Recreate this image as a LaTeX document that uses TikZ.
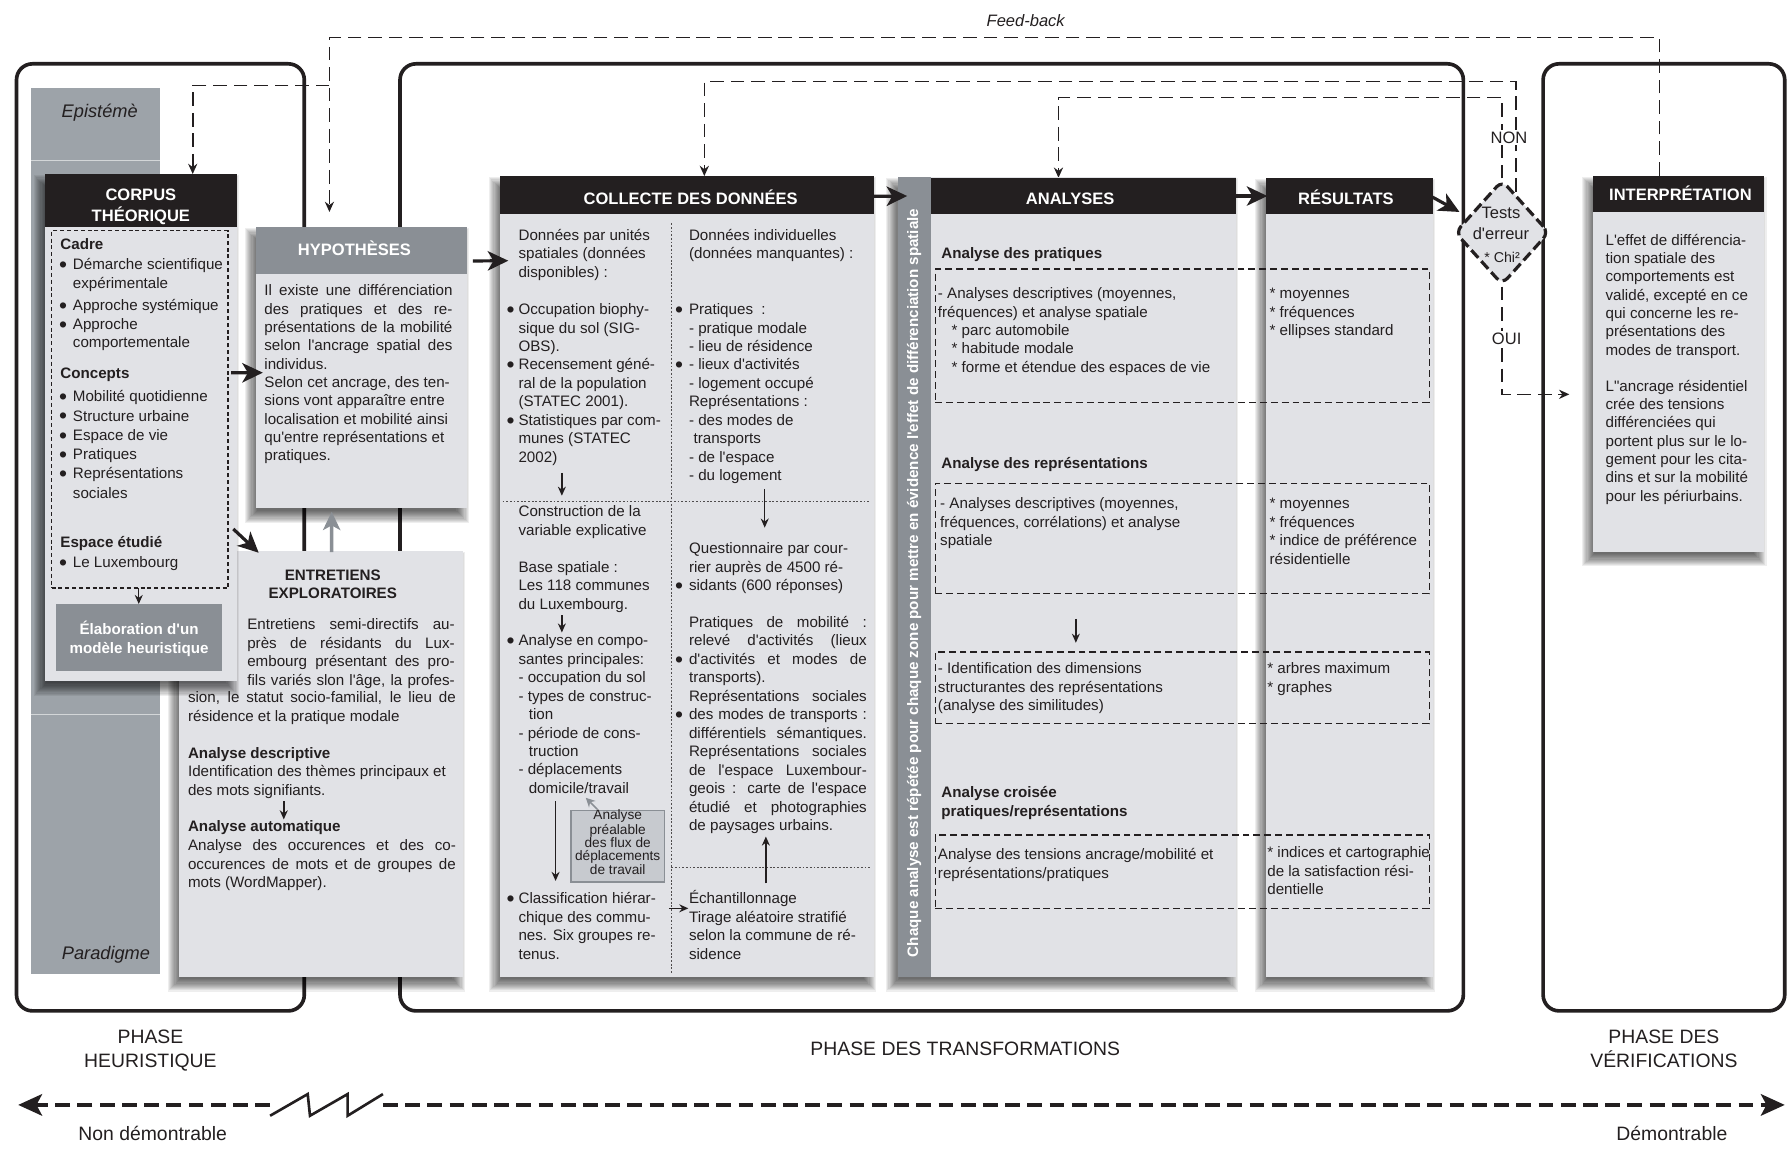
\documentclass[tikz,border=0pt]{standalone}
\usepackage{fontspec}
\setmainfont{Liberation Sans}
\newfontfamily\lib{Liberation Sans}
\usetikzlibrary{arrows.meta,shapes.geometric}
\pgfdeclarelayer{bg}
\pgfsetlayers{bg,main}
\definecolor{ink}{HTML}{231F20}
\definecolor{pale}{HTML}{E1E2E6}
\definecolor{midg}{HTML}{8A8F95}
\definecolor{colg}{HTML}{9DA3A9}
\definecolor{boxg}{HTML}{C7CACF}
\newcommand\fb{\lib\fontsize{13.3}{16.2}\selectfont}
\newcommand\fbb{\lib\fontsize{13.3}{16.2}\selectfont\bfseries}
\newcommand\fh{\lib\fontsize{14.5}{17.8}\selectfont\bfseries}
\newcommand\fl{\lib\fontsize{17}{21}\selectfont}
\newcommand\fm{\lib\fontsize{14.5}{17}\selectfont}
\newcommand\bb[1][5.2]{\llap{\raisebox{-2.5pt}{\fontsize{20}{20}\selectfont\textbullet}\hspace{#1pt}}}
\newcommand\jl[2]{\makebox[#1pt][s]{#2}}
% soft drop shadow: x, y (top left), w, h
\newcommand\shd[4]{\foreach \k in {0,...,11}{\fill[black,opacity=0.065] ({#1+1-\k},{#2+12-\k}) rectangle ({#1+#3-9+\k},{#2+#4+2+\k});}}
\begin{document}
\begin{tikzpicture}[x=1pt,y=-1pt,
  phaseframe/.style={draw=ink,line width=3.2pt,rounded corners=14pt,inner sep=0pt,outer sep=0pt,anchor=north west},
  panel/.style={fill=pale,inner sep=0pt,outer sep=0pt,anchor=north west},
  plain/.style={inner sep=0pt,outer sep=0pt,anchor=north west},
  txt/.style={inner sep=0pt,outer sep=0pt,anchor=base west,align=left,text=ink,font=\fb},
  btxt/.style={txt,font=\fbb},
  htxt/.style={inner sep=0pt,anchor=base,text=white,font=\fh},
  lbl/.style={inner sep=0pt,anchor=base,align=center,text=ink,font=\fl},
  bigarr/.style={draw=ink,line width=2.8pt,-{Stealth[length=18pt,width=17pt,inset=5pt]}},
  grayarr/.style={draw=midg,line width=3pt,-{Stealth[length=16pt,width=15pt,inset=4pt]}},
  smallarr/.style={draw=ink,line width=1.3pt,-{Stealth[length=8pt,width=7pt]}},
  fbl/.style={draw=ink,line width=1.4pt,dash pattern=on 12pt off 6pt},
  fba/.style={fbl,-{Stealth[length=9pt,width=8pt]}},
  dbox/.style={draw=ink,line width=1.1pt,dash pattern=on 6pt off 3.5pt,inner sep=0pt,outer sep=0pt,anchor=north west},
  dotl/.style={draw=ink!80,line width=0.8pt,dash pattern=on 1.6pt off 1.6pt},
  axisl/.style={draw=ink,line width=2.8pt,dash pattern=on 13pt off 6.5pt,-{Stealth[length=21pt,width=19pt,inset=5pt]}},
]
\useasboundingbox (0,0) rectangle (1568,1011);
\begin{pgfonlayer}{bg}
\fill[white] (0,0) rectangle (1568,1011);
\node[phaseframe,minimum width=252.5pt,minimum height=831pt] (ph1) at (14.5,56) {};
\node[phaseframe,minimum width=933pt,minimum height=831pt] (ph2) at (351,56) {};
\node[phaseframe,minimum width=212pt,minimum height=831pt] (ph3) at (1354,56) {};
\end{pgfonlayer}

% epistemological column
\node[plain,fill=colg,minimum width=113.5pt,minimum height=778pt] (colm) at (27,77) {};
\draw[colg!45!white,line width=0.7pt] ([yshift=-64pt]colm.north west) -- ([yshift=-64pt]colm.north east);
\draw[colg!45!white,line width=0.7pt] ([yshift=228pt]colm.south west) -- ([yshift=228pt]colm.south east);
\node[inner sep=0pt,anchor=base,text=ink,font=\lib\fontsize{16}{19}\selectfont\itshape] (epi) at (87.5,103.5) {Epistémè};
\node[inner sep=0pt,anchor=base,text=ink,font=\lib\fontsize{16}{19}\selectfont\itshape] (para) at (93,841.5) {Paradigme};

% entretiens
\shd{157}{483.5}{249}{373.5}
\node[panel,minimum width=249pt,minimum height=373.5pt] (entre) at (157,483.5) {};
\node[btxt,anchor=base,align=center] (entt) at (292,525.2) {ENTRETIENS\\EXPLORATOIRES};
\node[txt] (e1) at (217,601.2) {\jl{182}{Entretiens semi-directifs au-}\\\jl{182}{près de résidants du Lux-}\\\jl{182}{embourg présentant des pro-}\\\jl{182}{fils variés slon l'âge, la profes-}};
\node[txt] (e2) at (165,632.7) {\jl{235}{sion, le statut socio-familial, le lieu de}\\résidence et la pratique modale};
\node[btxt] (e3) at (165,665.5) {Analyse descriptive};
\node[txt] (e4) at (165,697.8) {Identification des thèmes principaux et\\des mots signifiants.};
\node[btxt] (e5) at (165,730) {Analyse automatique};
\node[txt] (e6) at (165,778.9) {\jl{235}{Analyse des occurences et des co-}\\\jl{235}{occurences de mots et de groupes de}\\mots (WordMapper).};

% corpus
\shd{39.5}{152.7}{168.2}{444.9}
\node[panel,minimum width=168.2pt,minimum height=444.9pt] (corpus) at (39.5,152.7) {};
\node[plain,fill=ink,minimum width=168.2pt,minimum height=46.3pt] (corpush) at (39.5,152.7) {};
\node[htxt,align=center] (corpust) at (123.6,194) {CORPUS\\THÉORIQUE};
\node[dbox,dash pattern=on 3.5pt off 2.5pt,line width=1.2pt,minimum width=154.7pt,minimum height=313.6pt] (cdash) at (45.3,202.4) {};
\node[btxt] (cadre) at (53,219) {Cadre};
\node[txt] (c1) at (64,252.8) {\bb Démarche scientifique\\expérimentale};
\node[txt] (c2) at (64,272.6) {\bb Approche systémique};
\node[txt] (c3) at (64,305.2) {\bb Approche\\comportementale};
\node[btxt] (concepts) at (53,332) {Concepts};
\node[txt,font=\lib\fontsize{13.3}{16.9}\selectfont] (c4) at (64,437.1) {\bb Mobilité quotidienne\\\bb Structure urbaine\\\bb Espace de vie\\\bb Pratiques\\\bb Représentations\\sociales};
\node[btxt] (espace) at (53,480) {Espace étudié};
\node[txt] (c5) at (64,498) {\bb Le Luxembourg};
\node[plain,fill=midg,minimum width=145.5pt,minimum height=59pt] (elab) at (49,530) {};
\node[htxt,font=\fbb,align=center] (elabt) at (122,573) {Élaboration d'un\\modèle heuristique};

% hypotheses
\shd{224.6}{199}{184.9}{247}
\node[panel,minimum width=184.9pt,minimum height=247pt] (hyp) at (224.6,199) {};
\node[plain,fill=midg,minimum width=184.9pt,minimum height=41pt] (hyph) at (224.6,199) {};
\node[htxt] (hypt) at (311,224) {HYPOTHÈSES};
\node[txt,font=\lib\fontsize{13.3}{16.1}\selectfont] (hyptx) at (232,404.4) {\jl{165}{Il existe une différenciation}\\\jl{165}{des pratiques et des re-}\\\jl{165}{présentations de la mobilité}\\\jl{165}{selon l'ancrage spatial des}\\individus.\\Selon cet ancrage, des ten-\\sions vont apparaître entre\\localisation et mobilité ainsi\\qu'entre représentations et\\pratiques.};

% collecte
\shd{439}{154.5}{328}{702.5}
\node[panel,minimum width=328pt,minimum height=702.5pt] (coll) at (439,154.5) {};
\node[plain,fill=ink,minimum width=328pt,minimum height=33.5pt] (collh) at (439,154.5) {};
\node[htxt] (collt) at (606,179) {COLLECTE DES DONNÉES};
\draw[dotl] (589,196) -- (589,855);
\draw[dotl] (441,440) -- (764,440);
\draw[dotl] (589,761) -- (764,761);
\node[txt] (l1) at (455,243.4) {Données par unités\\spatiales (données\\disponibles) :};
\node[txt] (l2) at (455,405.6) {\bb[3.4]Occupation biophy-\\sique du sol (SIG-\\OBS).\\\bb[3.4]Recensement géné-\\ral de la population\\(STATEC 2001).\\\bb[3.4]Statistiques par com-\\munes (STATEC\\2002)};
\node[txt] (l3) at (455,469.7) {Construction de la\\variable explicative};
\node[txt] (l4) at (455,534.7) {Base spatiale :\\Les 118 communes\\du Luxembourg.};
\node[txt] (l5) at (455,696.2) {\bb[3.4]Analyse en compo-\\santes principales:\\- occupation du sol\\- types de construc-\\\hspace*{9pt}tion\\- période de cons-\\\hspace*{9pt}truction\\- déplacements\\\hspace*{9pt}domicile/travail};
\node[txt] (l6) at (455,841.6) {\bb[3.4]Classification hiérar-\\chique des commu-\\nes. Six groupes re-\\tenus.};
\node[txt] (r1) at (604.6,227.2) {Données individuelles\\(données manquantes) :};
\node[txt] (r2) at (604.6,421.8) {\bb Pratiques~~:\\- pratique modale\\- lieu de résidence\\\bb - lieux d'activités\\- logement occupé\\Représentations :\\- des modes de\\\hspace*{4pt}transports\\- de l'espace\\- du logement};
\node[txt] (r3) at (604.6,518.4) {Questionnaire par cour-\\rier auprès de 4500 ré-\\\bb sidants (600 réponses)};
\node[txt] (r4) at (604.6,728.8) {\jl{156}{Pratiques de mobilité :}\\\jl{156}{relevé d'activités (lieux}\\\bb\jl{156}{d'activités et modes de}\\transports).\\\jl{156}{Représentations sociales}\\\bb\jl{156}{des modes de transports :}\\\jl{156}{différentiels sémantiques.}\\\jl{156}{Représentations sociales}\\\jl{156}{de l'espace Luxembour-}\\\jl{156}{geois : carte de l'espace}\\\jl{156}{étudié et photographies}\\de paysages urbains.};
\node[txt] (r5) at (604.6,841.6) {Échantillonnage\\Tirage aléatoire stratifié\\selon la commune de ré-\\sidence};
\node[plain,fill=boxg,draw=midg,line width=1.2pt,minimum width=82pt,minimum height=63pt] (pre) at (501,711) {};
\node[inner sep=0pt,align=center,text=ink,font=\lib\fontsize{12}{10.9}\selectfont] (pret) at (542,739) {\lineskiplimit=-100pt Analyse\\préalable\\des flux de\\déplacements\\de travail};

% analyses
\shd{787.5}{155}{297}{702}
\node[panel,minimum width=297pt,minimum height=702pt] (anal) at (787.5,155) {};
\node[plain,fill=midg,minimum width=29.5pt,minimum height=702pt] (analbar) at (787.5,155) {};
\node[plain,fill=ink,minimum width=267.5pt,minimum height=32pt] (analh) at (817,156) {};
\node[htxt] (analt) at (939,179) {ANALYSES};
\node[inner sep=0pt,rotate=90,text=white,font=\fbb] (vtx) at (802,511.5) {Chaque analyse est répétée pour chaque zone pour mettre en évidence l'effet de différenciation spatiale};
% resultats
\shd{1111}{156}{146}{701}
\node[panel,minimum width=146pt,minimum height=701pt] (resu) at (1111,156) {};
\node[plain,fill=ink,minimum width=146pt,minimum height=32pt] (resuh) at (1111,156) {};
\node[htxt] (resut) at (1181,179) {RÉSULTATS};

\node[dbox,minimum width=433.4pt,minimum height=117pt] (db1) at (820.6,236) {};
\node[dbox,minimum width=433.4pt,minimum height=97pt] (db2) at (820.6,424) {};
\node[dbox,minimum width=433.4pt,minimum height=63pt] (db3) at (820.6,572) {};
\node[dbox,minimum width=433.4pt,minimum height=64.4pt] (db4) at (820.6,732.6) {};

\node[btxt] (ap) at (826,227) {Analyse des pratiques};
\node[txt] (ap1) at (823,326.8) {- Analyses descriptives (moyennes,\\fréquences) et analyse spatiale\\\hspace*{12pt}* parc automobile\\\hspace*{12pt}* habitude modale\\\hspace*{12pt}* forme et étendue des espaces de vie};
\node[txt] (ar1) at (1114,294.4) {* moyennes\\* fréquences\\* ellipses standard};
\node[btxt] (arp) at (826,411.5) {Analyse des représentations};
\node[txt] (ap2) at (825,478.9) {- Analyses descriptives (moyennes,\\fréquences, corrélations) et analyse\\spatiale};
\node[txt] (ar2) at (1114,495.1) {* moyennes\\* fréquences\\* indice de préférence\\résidentielle};
\node[txt] (ap3) at (823,623.4) {- Identification des dimensions\\structurantes des représentations\\(analyse des similitudes)};
\node[txt] (ar3) at (1112,607.2) {* arbres maximum\\* graphes};
\node[btxt] (ac) at (826,716.2) {Analyse croisée\\pratiques/représentations};
\node[txt] (ap4) at (823,770.7) {Analyse des tensions ancrage/mobilité et\\représentations/pratiques};
\node[txt] (ar4) at (1112,785) {* indices et cartographie\\de la satisfaction rési-\\dentielle};

% interpretation
\shd{1398}{154}{150}{330}
\node[panel,minimum width=150pt,minimum height=330pt] (interp) at (1398,154) {};
\node[plain,fill=ink,minimum width=150pt,minimum height=32pt] (interph) at (1398,154) {};
\node[htxt] (interpt) at (1474.5,175.8) {INTERPRÉTATION};
\node[txt,font=\lib\fontsize{13.3}{16.1}\selectfont] (i1) at (1408.8,311.6) {L'effet de différencia-\\tion spatiale des\\comportements est\\validé, excepté en ce\\qui concerne les re-\\présentations des\\modes de transport.};
\node[txt,font=\lib\fontsize{13.3}{16.1}\selectfont] (i2) at (1408.8,439.8) {L"ancrage résidentiel\\crée des tensions\\différenciées qui\\portent plus sur le lo-\\gement pour les cita-\\dins et sur la mobilité\\pour les périurbains.};

% decision diamond
\node[diamond,draw=ink,fill=pale,line width=2.8pt,dash pattern=on 9pt off 4pt,rounded corners=7pt,minimum width=83pt,minimum height=92pt,inner sep=0pt] (diam) at (1318,204) {};
\node[inner sep=0pt,anchor=base,text=ink,font=\fm] (tst1) at (1317,191.5) {Tests};
\node[inner sep=0pt,anchor=base,text=ink,font=\fm] (tst2) at (1317,210.5) {d'erreur};
\node[inner sep=0pt,anchor=base,text=ink,font=\lib\fontsize{12.5}{15}\selectfont] (tst3) at (1318,230.5) {* Chi²};
\node[fill=white,inner sep=1.5pt,text=ink,font=\fm] (non) at (1324,121) {NON};
\node[fill=white,inner sep=1.5pt,text=ink,font=\fm] (oui) at (1322,297) {OUI};
\node[inner sep=0pt,text=ink,font=\lib\fontsize{14.5}{17}\selectfont\itshape] (fbt) at (900,18) {Feed-back};

% feedback and loop lines
\coordinate (fbj) at (289,75);
\coordinate (ouiend) at (1377,346);
\begin{pgfonlayer}{bg}
\draw[fba] ([xshift=-17pt]interph.north) -- ++(0,-121) -| ([shift={(-28,-13)}]hyp.north);
\draw[fba] (fbj) -| ([xshift=45.5pt]corpush.north);
\draw[fba] ([shift={(12,12)}]diam.north) -- ++(0,-97) -| ([xshift=15pt]collh.north);
\draw[fba] (diam.north) -- ++(0,-71) -| ([xshift=-22pt]analh.north);
\draw[fba] (diam.south) |- (ouiend);
\end{pgfonlayer}

% main arrows
\draw[bigarr] ([shift={(-5,-48)}]corpus.east) -- ([shift={(6,4.5)}]hyp.west);
\draw[bigarr] ([shift={(-3,89)}]corpus.east) -- ([shift={(70,1.5)}]entre.north west);
\draw[grayarr] ([shift={(9.5,1)}]entre.north) -- ([shift={(-26,3)}]hyp.south);
\draw[bigarr] ([shift={(5.5,-93.5)}]hyp.east) -- ([shift={(7,-277)}]coll.west);
\draw[bigarr] ([yshift=-1pt]collh.east) -- ([shift={(8.5,-334)}]analbar.west);
\draw[bigarr] (analh.east) -- ([xshift=1pt]resuh.west);
\draw[bigarr] ([yshift=-1pt]resuh.east) -- ([shift={(5.5,-18)}]diam.west);
\draw[smallarr] (cdash.south -| elab.north) -- (elab.north);

% small arrows inside boxes
\coordinate (ka1) at (249,703); \coordinate (ka2) at (249,719);
\coordinate (kb1) at (493,415); \coordinate (kb2) at (493,435);
\coordinate (kc1) at (493,540); \coordinate (kc2) at (493,555);
\coordinate (kd1) at (487.5,703); \coordinate (kd2) at (487.5,773);
\coordinate (ke1) at (671,429); \coordinate (ke2) at (671,463);
\coordinate (kf1) at (672,775); \coordinate (kf2) at (672,734);
\coordinate (kg1) at (587,797); \coordinate (kg2) at (604,797);
\coordinate (kh1) at (944,543); \coordinate (kh2) at (944,564);
\coordinate (ki) at (514,700);
\draw[smallarr] (ka1) -- (ka2);
\draw[smallarr] (kb1) -- (kb2);
\draw[smallarr] (kc1) -- (kc2);
\draw[smallarr] (kd1) -- (kd2);
\draw[smallarr] (ke1) -- (ke2);
\draw[smallarr] (kf1) -- (kf2);
\draw[smallarr] (kg1) -- (kg2);
\draw[smallarr] (kh1) -- (kh2);
\draw[draw=midg,line width=1.4pt,-{Stealth[length=8pt,width=8pt]}] ([shift={(-18,-1)}]pre.north) -- (ki);

% phase labels and axis
\node[lbl] (lab1) at (132,937) {PHASE\\HEURISTIQUE};
\node[lbl] (lab2) at (847,926) {PHASE DES TRANSFORMATIONS};
\node[lbl] (lab3) at (1460,937) {PHASE DES\\VÉRIFICATIONS};
\node[lbl] (nd) at (134,1001) {Non démontrable};
\node[lbl] (dm) at (1467,1001) {Démontrable};
\coordinate (axl) at (16,969.5); \coordinate (zl) at (237,969.5);
\coordinate (zr) at (336,969.5); \coordinate (axr) at (1566,969.5);
\draw[axisl] (zl) -- (axl);
\draw[axisl] (zr) -- (axr);
\draw[ink,line width=2.3pt] (237,979) -- (270,960) -- (272,979) -- (305,960) -- (305,979) -- (336,960);
\end{tikzpicture}
\end{document}
